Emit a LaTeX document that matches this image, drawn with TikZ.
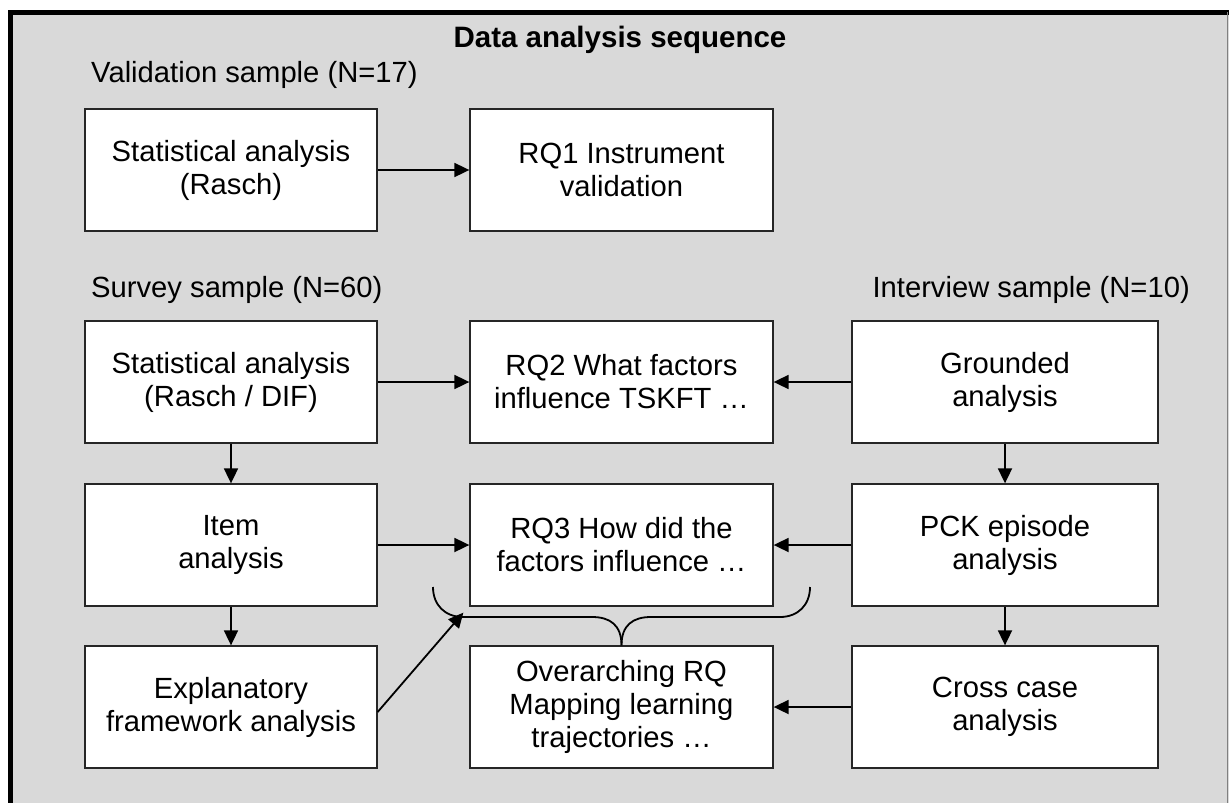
\documentclass[tikz,border=0pt]{standalone}
\usepackage{fontspec}
\setmainfont{Liberation Sans}
\usetikzlibrary{arrows.meta}
\definecolor{panelgray}{RGB}{217,217,217}
\begin{document}
\begin{tikzpicture}[x=1pt,y=-1pt,
  stepbox/.style={draw=black!85,line width=1.3pt,fill=white,minimum height=122pt,
    align=center,inner sep=0pt,font=\fontsize{29.2}{33}\selectfont},
  leftbox/.style={stepbox,minimum width=292pt},
  midbox/.style={stepbox,minimum width=303pt},
  rightbox/.style={stepbox,minimum width=306pt},
  samplelabel/.style={inner sep=0pt,font=\fontsize{29.2}{33}\selectfont},
  flow/.style={line width=1.8pt,-{Triangle[length=15pt,width=14pt]}},
  ]
\useasboundingbox (0,0) rectangle (1229,803);
\fill[panelgray] (10,12) rectangle (1229,803);
\draw[black,line width=5pt] (10.5,803) -- (10.5,12) -- (1229,12);
\draw[gray,line width=1pt] (1227.5,12) -- (1227.5,803);

\node[samplelabel,font=\bfseries\fontsize{29.5}{33}\selectfont] (title) at (620,40) {Data analysis sequence};
\node[samplelabel,anchor=west] (validation) at (91,75) {Validation sample (N=17)};
\node[samplelabel,anchor=west] (survey) at (91,290) {Survey sample (N=60)};
\node[samplelabel,anchor=east] (interview) at (1190,290) {Interview sample (N=10)};

\node[leftbox] (stat1) at (231,170) {Statistical analysis\\(Rasch)};
\node[midbox] (rq1) at (621.5,170) {RQ1 Instrument\\validation};

\node[leftbox] (stat2) at (231,382) {Statistical analysis\\(Rasch / DIF)};
\node[midbox] (rq2) at (621.5,382) {RQ2 What factors\\influence TSKFT …};
\node[rightbox] (grounded) at (1005,382) {Grounded\\analysis};

\node[leftbox] (item) at (231,545) {Item\\analysis};
\node[midbox] (rq3) at (621.5,545) {RQ3 How did the\\factors influence …};
\node[rightbox] (pck) at (1005,545) {PCK episode\\analysis};

\node[leftbox] (explan) at (231,707) {Explanatory\\framework analysis};
\node[midbox] (overarch) at (621.5,707) {Overarching RQ\\Mapping learning\\trajectories …};
\node[rightbox] (cross) at (1005,707) {Cross case\\analysis};

\draw[flow] (stat1) -- (rq1);
\draw[flow] (stat2) -- (rq2);
\draw[flow] (grounded) -- (rq2);
\draw[flow] (item) -- (rq3);
\draw[flow] (pck) -- (rq3);
\draw[flow] (cross) -- (overarch);
\draw[flow] (stat2) -- (item);
\draw[flow] (item) -- (explan);
\draw[flow] (grounded) -- (pck);
\draw[flow] (pck) -- (cross);
\draw[flow] ([yshift=-5pt]explan.east) -- ([xshift=-6pt,yshift=-6pt]rq3.south west);

\coordinate (tip) at (overarch.north);
\draw[line width=1.8pt] (tip) .. controls (621.5,625) and (610,617) .. (592,617) -- (463,617)
  .. controls (445,617) and (433,605) .. (433,587);
\draw[line width=1.8pt] (tip) .. controls (621.5,625) and (633,617) .. (651,617) -- (780,617)
  .. controls (798,617) and (810,605) .. (810,587);
\end{tikzpicture}
\end{document}
